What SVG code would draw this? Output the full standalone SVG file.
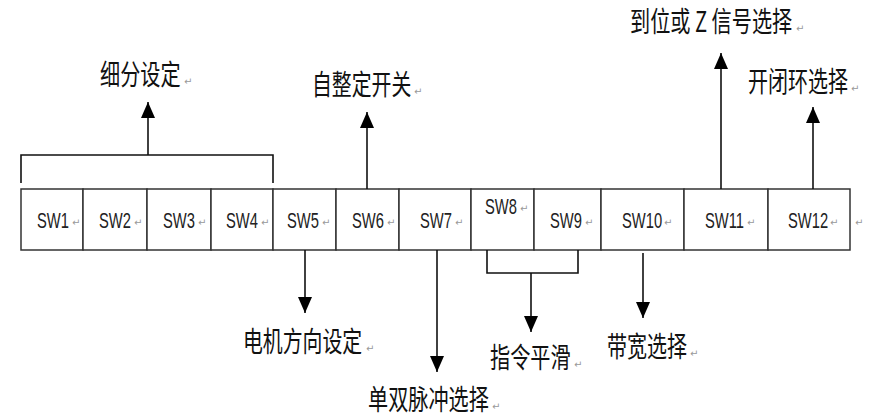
<svg xmlns="http://www.w3.org/2000/svg" width="879" height="417" viewBox="0 0 879 417">
<style>
.cell{fill:#fff;stroke:#333;stroke-width:1.5}
.sw{font-family:"Liberation Sans",sans-serif;font-size:22px;fill:#222}
.cn{font-family:"Noto Sans CJK SC",sans-serif;font-size:28px;fill:#111}
.pm{font-family:"DejaVu Sans",sans-serif;font-size:10px;fill:#999}
.ln{fill:none;stroke:#111;stroke-width:1.6}
</style>
<defs>
<marker id="ah" markerUnits="userSpaceOnUse" markerWidth="16" markerHeight="14" refX="16" refY="7" orient="auto">
<path d="M0,0 L16,7 L0,14 z" fill="#000"/>
</marker>
</defs>
<rect width="879" height="417" fill="#fff"/>
<g id="table">
<rect class="cell" x="21" y="189" width="62" height="61"/>
<rect class="cell" x="83" y="189" width="64" height="61"/>
<rect class="cell" x="147" y="189" width="64" height="61"/>
<rect class="cell" x="211" y="189" width="62" height="61"/>
<rect class="cell" x="273" y="189" width="63" height="61"/>
<rect class="cell" x="336" y="189" width="63" height="61"/>
<rect class="cell" x="399" y="189" width="72" height="61"/>
<rect class="cell" x="471" y="189" width="63" height="61"/>
<rect class="cell" x="534" y="189" width="67" height="61"/>
<rect class="cell" x="601" y="189" width="83" height="61"/>
<rect class="cell" x="684" y="189" width="84" height="61"/>
<rect class="cell" x="768" y="189" width="82" height="61"/>
</g>
<g id="sw1"><text class="sw" transform="translate(37,228) scale(0.67,1)">SW1</text><text class="pm" x="72" y="226">↵</text></g>
<g id="sw2"><text class="sw" transform="translate(99,228) scale(0.67,1)">SW2</text><text class="pm" x="134" y="226">↵</text></g>
<g id="sw3"><text class="sw" transform="translate(163,228) scale(0.67,1)">SW3</text><text class="pm" x="198" y="226">↵</text></g>
<g id="sw4"><text class="sw" transform="translate(226,228) scale(0.67,1)">SW4</text><text class="pm" x="261" y="226">↵</text></g>
<g id="sw5"><text class="sw" transform="translate(287,228) scale(0.67,1)">SW5</text><text class="pm" x="322" y="226">↵</text></g>
<g id="sw6"><text class="sw" transform="translate(352,228) scale(0.67,1)">SW6</text><text class="pm" x="387" y="226">↵</text></g>
<g id="sw7"><text class="sw" transform="translate(420,228) scale(0.67,1)">SW7</text><text class="pm" x="455" y="226">↵</text></g>
<g id="sw8"><text class="sw" transform="translate(485,214) scale(0.67,1)">SW8</text><text class="pm" x="520" y="212">↵</text></g>
<g id="sw9"><text class="sw" transform="translate(550,228) scale(0.67,1)">SW9</text><text class="pm" x="585" y="226">↵</text></g>
<g id="sw10"><text class="sw" transform="translate(622,228) scale(0.67,1)">SW10</text><text class="pm" x="664" y="226">↵</text></g>
<g id="sw11"><text class="sw" transform="translate(705,228) scale(0.67,1)">SW11</text><text class="pm" x="747" y="226">↵</text></g>
<g id="sw12"><text class="sw" transform="translate(788,228) scale(0.67,1)">SW12</text><text class="pm" x="830" y="226">↵</text></g>
<g id="endmark"><text class="pm" x="855" y="226">↵</text></g>
<g id="connectors">
<path class="ln" d="M21,183 V155 H273 V183"/>
<path class="ln" d="M148,155 V102" marker-end="url(#ah)"/>
<path class="ln" d="M367,189 V112" marker-end="url(#ah)"/>
<path class="ln" d="M721,189 V53" marker-end="url(#ah)"/>
<path class="ln" d="M813,189 V107" marker-end="url(#ah)"/>
<path class="ln" d="M305,250 V313" marker-end="url(#ah)"/>
<path class="ln" d="M437,250 V372" marker-end="url(#ah)"/>
<path class="ln" d="M487,250 V273 H578 V250"/>
<path class="ln" d="M531,273 V332" marker-end="url(#ah)"/>
<path class="ln" d="M643,253 V318" marker-end="url(#ah)"/>
</g>
<g id="label-xifen"><text class="cn" transform="translate(100,85) scale(0.72,1)">细分设定</text><text class="pm" x="184" y="85">↵</text></g>
<g id="label-zizhengding"><text class="cn" transform="translate(312,95) scale(0.71,1)">自整定开关</text><text class="pm" x="414" y="95">↵</text></g>
<g id="label-daowei"><text class="cn" transform="translate(630,32) scale(0.72,1)">到位或 Z 信号选择</text><text class="pm" x="796" y="32">↵</text></g>
<g id="label-kaibihuan"><text class="cn" transform="translate(748,92) scale(0.715,1)">开闭环选择</text><text class="pm" x="851" y="92">↵</text></g>
<g id="label-dianji"><text class="cn" transform="translate(243,352) scale(0.71,1)">电机方向设定</text><text class="pm" x="366" y="352">↵</text></g>
<g id="label-danshuang"><text class="cn" transform="translate(368,410) scale(0.72,1)">单双脉冲选择</text><text class="pm" x="492" y="410">↵</text></g>
<g id="label-zhiling"><text class="cn" transform="translate(490,368) scale(0.72,1)">指令平滑</text><text class="pm" x="574" y="368">↵</text></g>
<g id="label-daikuan"><text class="cn" transform="translate(607,357) scale(0.715,1)">带宽选择</text><text class="pm" x="690" y="357">↵</text></g>
</svg>
